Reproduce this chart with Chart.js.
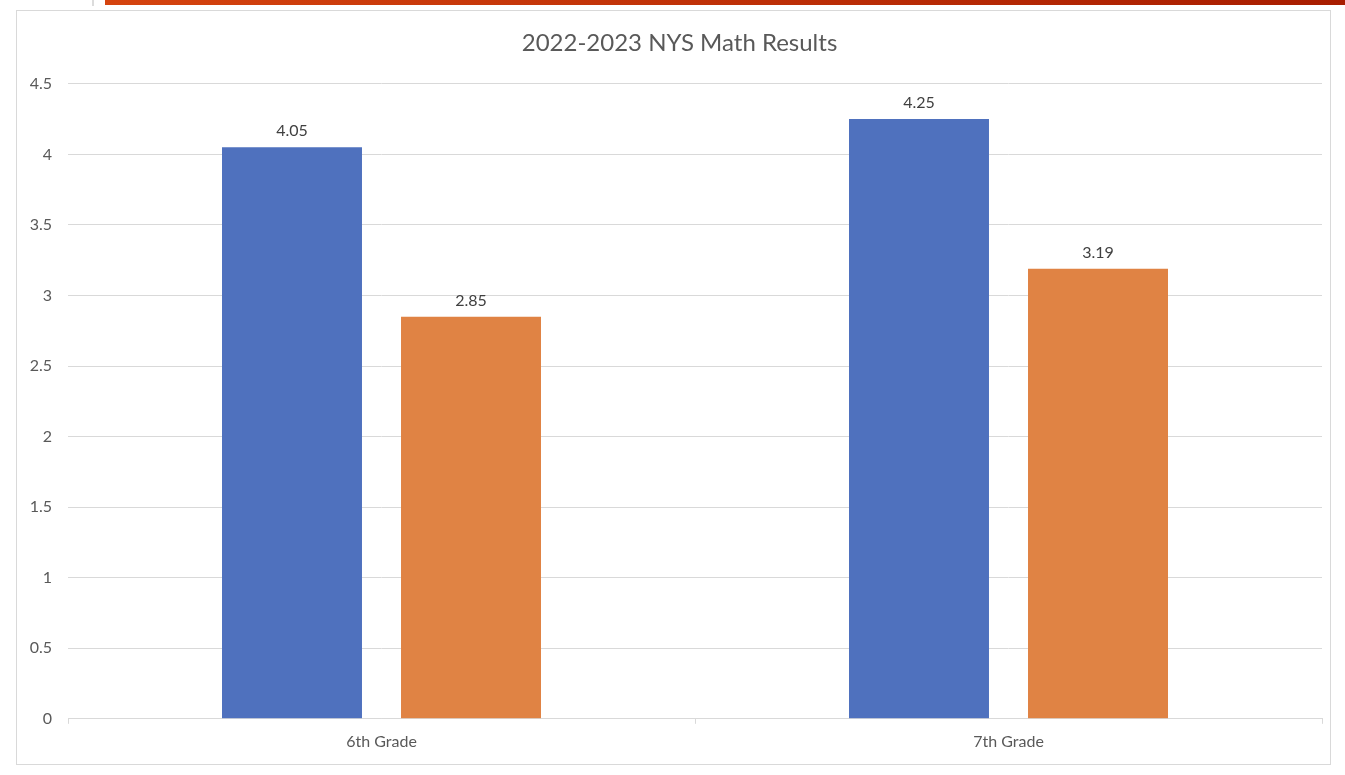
<!DOCTYPE html>
<html>
<head>
<meta charset="utf-8">
<script src="https://cdn.jsdelivr.net/npm/chart.js@4/dist/chart.umd.min.js"></script>
<style>
  html, body { margin: 0; padding: 0; background: #fff; }
  body { width: 1345px; height: 775px; position: relative; overflow: hidden; }
  #stripe {
    position: absolute; left: 105px; top: 0; width: 1240px; height: 5px;
    background: linear-gradient(to right, #d5440f, #a81d00);
  }
  #tick { position: absolute; left: 92px; top: 0; width: 2px; height: 6px; background: #dcdcdc; }
  #box {
    position: absolute; left: 16px; top: 10px; width: 1313px; height: 753px;
    border: 1px solid #d9d9d9;
  }
</style>
</head>
<body>
<div id="stripe"></div>
<div id="tick"></div>
<div id="box"><canvas id="chart"></canvas></div>
<script>
const categories = ["6th Grade", "7th Grade"];
const seriesNames = ["Series 1", "Series 2"];
const series1 = [4.05, 4.25];
const series2 = [2.85, 3.19];
const yTicks = [0, 0.5, 1, 1.5, 2, 2.5, 3, 3.5, 4, 4.5];

const FONT = "Lato, 'Open Sans', sans-serif";

// value labels above each bar
const barLabels = {
  id: "barLabels",
  afterLayout(chart) {
    // title sits a little right of centre in the original
    if (chart.titleBlock) {
      chart.titleBlock.left += 10;
      chart.titleBlock.right += 10;
    }
  },
  afterDatasetsDraw(chart) {
    const ctx = chart.ctx;
    ctx.save();
    ctx.font = "16px " + FONT;
    ctx.fillStyle = "#404040";
    ctx.textAlign = "center";
    ctx.textBaseline = "middle";
    chart.data.datasets.forEach((ds, i) => {
      chart.getDatasetMeta(i).data.forEach((bar, j) => {
        ctx.fillText(ds.data[j].toFixed(2), bar.x, bar.y - 16);
      });
    });
    ctx.restore();
  }
};

const box = document.getElementById("box");
const canvas = document.getElementById("chart");
canvas.width = box.clientWidth;
canvas.height = box.clientHeight;

new Chart(canvas, {
  type: "bar",
  data: {
    labels: categories,
    datasets: [
      { label: seriesNames[0], data: series1, backgroundColor: "#4f71be" },
      { label: seriesNames[1], data: series2, backgroundColor: "#e08344" }
    ]
  },
  options: {
    responsive: false,
    animation: false,
    categoryPercentage: 0.571,
    barPercentage: 0.782,
    layout: { padding: { left: 0, right: 8, top: 0, bottom: 5 } },
    plugins: {
      legend: { display: false },
      tooltip: { enabled: false },
      title: {
        display: true,
        text: "2022-2023 NYS Math Results",
        color: "#595959",
        font: { family: FONT, size: 24, weight: "normal" },
        padding: { top: 18, bottom: 26 }
      }
    },
    scales: {
      x: {
        grid: { drawOnChartArea: false, drawTicks: true, tickLength: 5, color: "#d9d9d9", offset: true },
        border: { color: "#d9d9d9" },
        ticks: { color: "#595959", font: { family: FONT, size: 16 }, padding: 8 }
      },
      y: {
        min: 0,
        max: 4.5,
        afterBuildTicks(scale) { scale.ticks = yTicks.map(v => ({ value: v })); },
        afterFit(scale) { scale.width = 51; },
        grid: { color: "#d9d9d9", drawTicks: false },
        border: { display: false },
        ticks: {
          color: "#595959",
          font: { family: FONT, size: 16 },
          padding: 16,
          callback: v => String(v)
        }
      }
    }
  },
  plugins: [barLabels]
});
</script>
</body>
</html>
